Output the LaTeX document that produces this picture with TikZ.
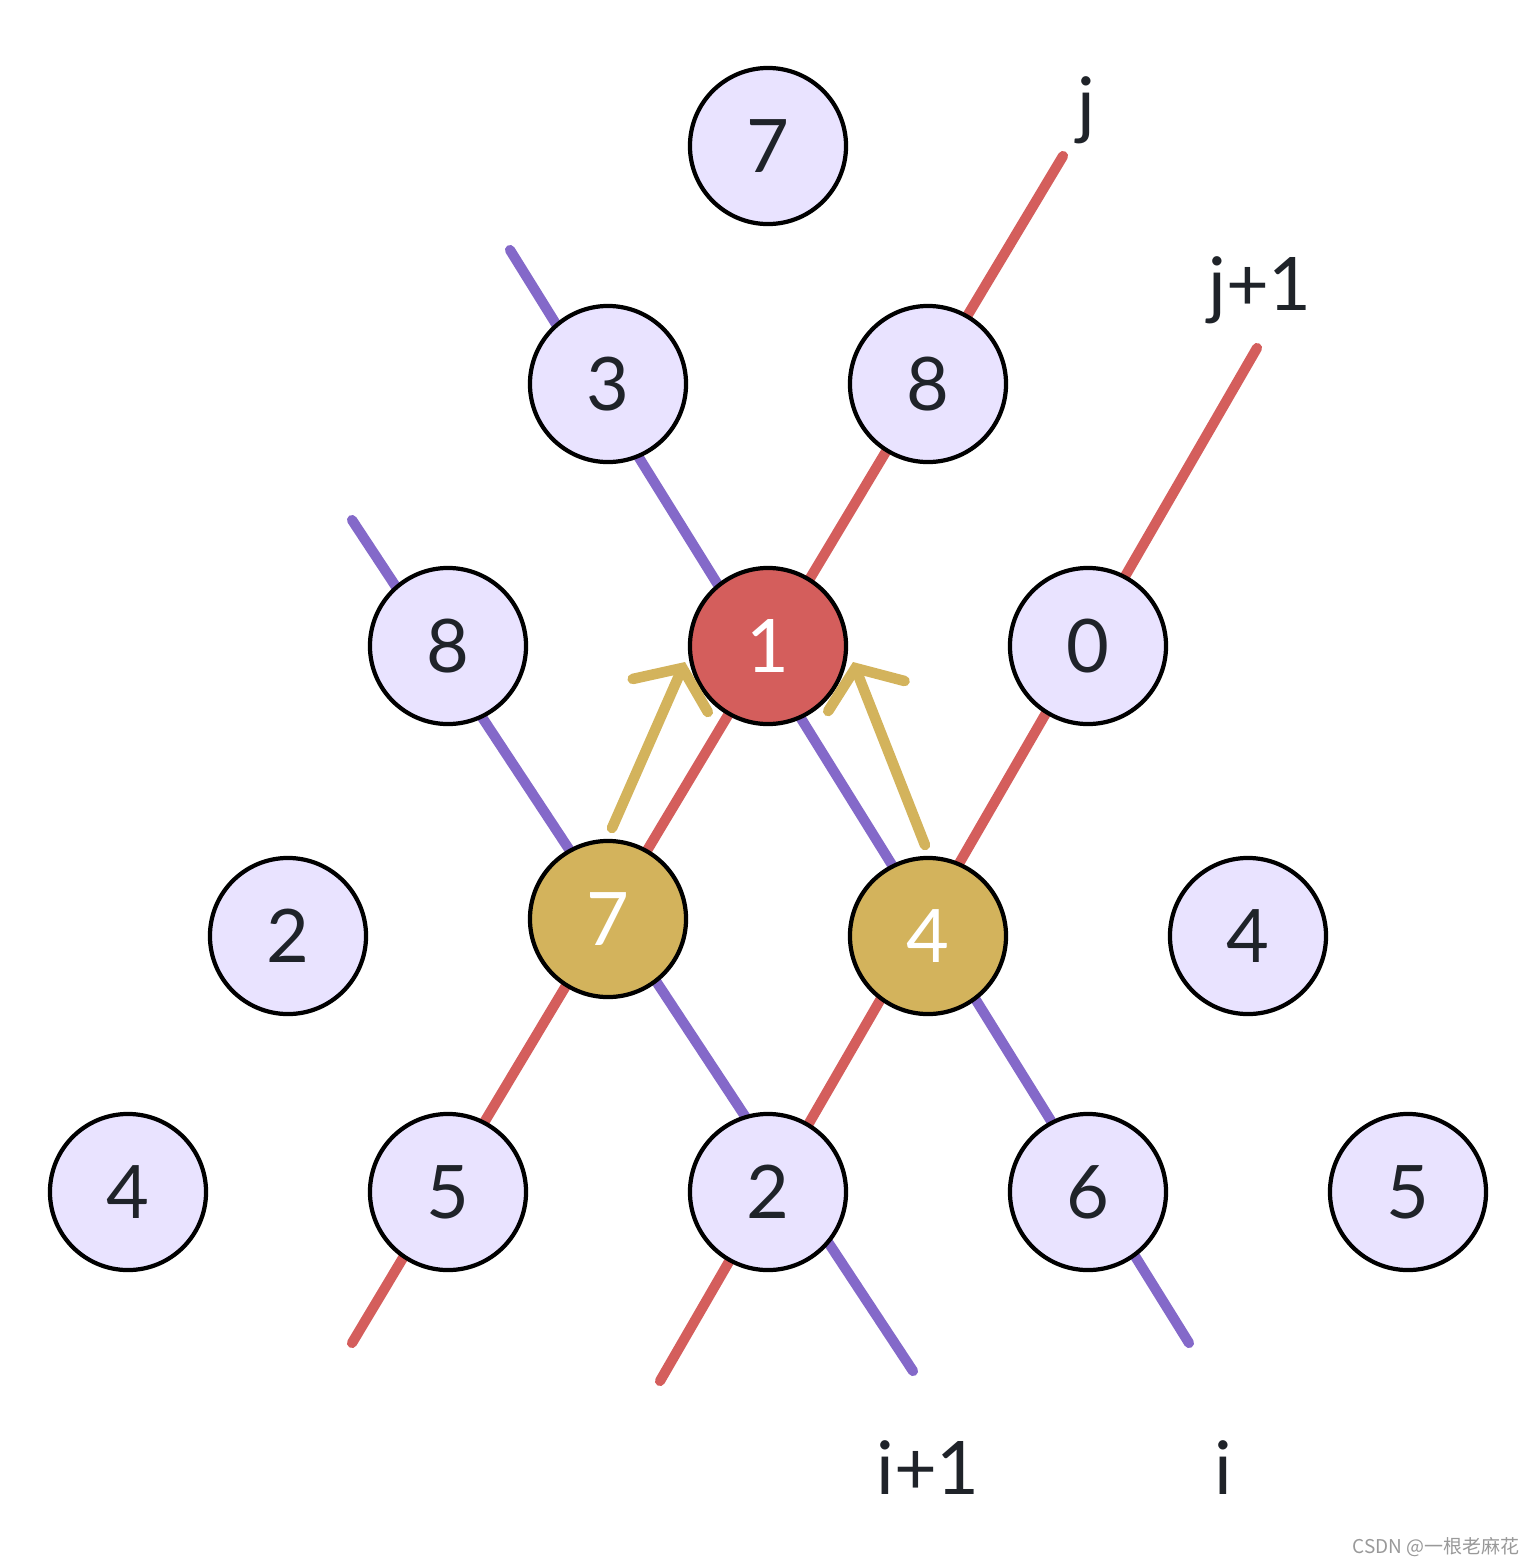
\documentclass[tikz,border=0pt]{standalone}
\usepackage{fontspec}
\setmainfont{Lato}
\newfontfamily\cjk{Noto Sans CJK SC}
\usepackage{xcolor}
\usepackage{tikz}
\usetikzlibrary{
  arrows.meta,
  backgrounds
}

\definecolor{cellfill}{HTML}{E9E3FF}
\definecolor{redline}{HTML}{D45E5C}
\definecolor{goldline}{HTML}{D3B35C}
\definecolor{purpleline}{HTML}{8469C9}
\definecolor{textdark}{HTML}{1F2329}

\begin{document}
\begin{tikzpicture}[
          x=0.01cm,y=-0.01cm,
          cell/.style={
              circle,
              draw=black,
              line width=1.2pt,
              fill=cellfill,
              minimum size=1.56cm,
              inner sep=0pt,
              text=textdark,
              font=\fontsize{21}{25}\selectfont
            },redcell/.style={
              cell,fill=redline,text=white
            },goldcell/.style={
              cell,fill=goldline,text=white
            },jline/.style={
              draw=redline,line width=2.9pt,line cap=round
            },iline/.style={
              draw=purpleline,line width=2.9pt,line cap=round
            },moveto/.style={
              draw=goldline,line width=3pt,line cap=round,
              -{Straight Barb[length=0.30cm,width=0.82cm,line cap=round]}
            },lbl/.style={
              anchor=base,text=textdark,
              font=\fontsize{21}{25}\selectfont
            }
        ]
        \useasboundingbox (0,0) rectangle (1536,1566);

        % 格子の数字
        \node[cell] (t7) at (768,146) {7};
        \node[cell] (a3) at (608,384) {3};
        \node[cell] (a8) at (928,384) {8};
        \node[cell] (b8) at (448,646) {8};
        \node[redcell] (b1) at (768,646) {1};
        \node[cell] (b0) at (1088,646) {0};
        \node[cell] (c2) at (288,936) {2};
        \node[goldcell] (c7) at (608,919) {7};
        \node[goldcell] (c4) at (928,936) {4};
        \node[cell] (c4r) at (1248,936) {4};
        \node[cell] (d4) at (128,1192) {4};
        \node[cell] (d5) at (448,1192) {5};
        \node[cell] (d2) at (768,1192) {2};
        \node[cell] (d6) at (1088,1192) {6};
        \node[cell] (d5r) at (1408,1192) {5};

        % 線の端点
        \coordinate (jtop) at (1063,156);
        \coordinate (jbot) at (352,1343);
        \coordinate (jjtop) at (1257,348);
        \coordinate (jjbot) at (660,1381);
        \coordinate (itop) at (510,250);
        \coordinate (ibot) at (1189,1343);
        \coordinate (iitop) at (352,520);
        \coordinate (iibot) at (913,1371);

        % 対角線 (背面)
        \begin{scope}[on background layer]
          \draw[jline] (jtop) -- (jbot);
          \draw[jline] (jjtop) -- (jjbot);
          \draw[iline] (itop) -- (ibot);
          \draw[iline] (iitop) -- (iibot);
        \end{scope}

        % 遷移の矢印
        \coordinate (m1s) at (612,828);
        \coordinate (m1e) at (685,662);
        \coordinate (m2s) at (925,845);
        \coordinate (m2e) at (853,662);
        \draw[moveto] (m1s) -- (m1e);
        \draw[moveto] (m2s) -- (m2e);

        % ラベル
        \node[lbl] (lj) at (1086,130) {j};
        \node[lbl] (ljj) at (1260,310) {j+1};
        \node[lbl] (lii) at (928,1494) {i+1};
        \node[lbl] (li) at (1223,1494) {i};
        \node[anchor=base east,inner sep=0pt,text=black!40,font=\cjk\fontsize{5.4}{6}\selectfont] (mark) at (1520,1553) {CSDN @一根老麻花};

      \end{tikzpicture}
\end{document}
